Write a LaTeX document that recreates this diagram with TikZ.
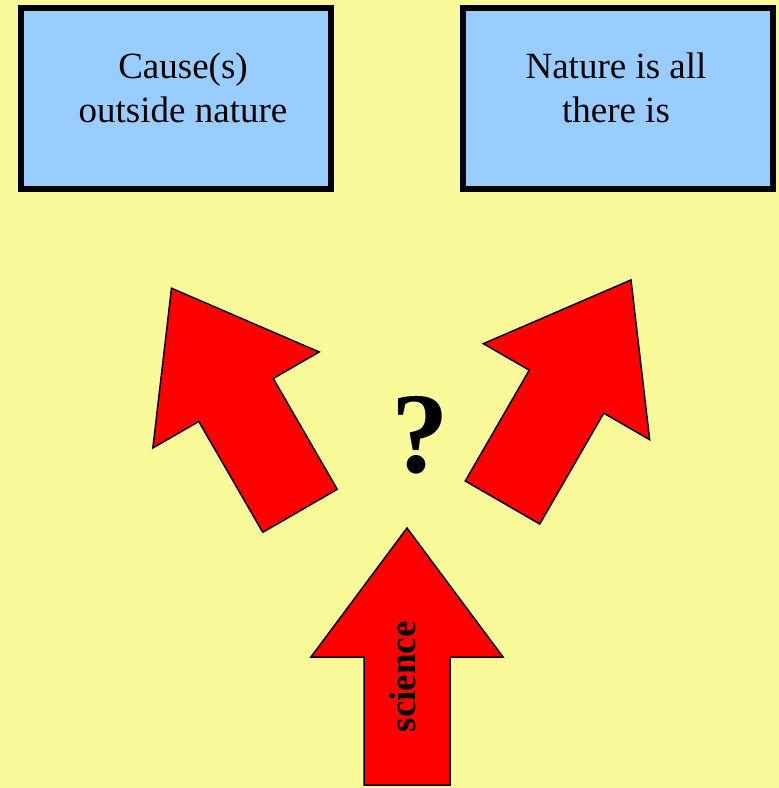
\documentclass[tikz,border=0pt]{standalone}
\usepackage{fontspec}
\setmainfont{Liberation Serif}

\definecolor{paleyellow}{HTML}{FAFA9B}
\definecolor{skyblue}{HTML}{99CCFF}

\begin{document}
\begin{tikzpicture}[x=0.5pt, y=-0.5pt,
  box/.style = {shape=rectangle, draw, line width=3pt, fill=skyblue,
    minimum width=155pt, minimum height=90.5pt},
  boxtext/.style = {align=center, font=\fontsize{18.5}{22}\selectfont},
  bigarrow/.style = {fill=red, draw=black, line width=0.75pt, line join=miter},
  pics/upblock/.style = {code={
    \draw[bigarrow] (-43,0) -- (-43,-128) -- (-96,-128) -- (0,-257)
      -- (96,-128) -- (43,-128) -- (43,0) -- cycle;
  }}
  ]
  \fill[paleyellow] (0,0) rectangle (779,788);
  \useasboundingbox (0,0) rectangle (779,788);

  \node[box] (cause) at (176,98.5) {};
  \node[boxtext] (causetext) at (183,87.5) {Cause(s)\\outside nature};
  \node[box] (nature) at (617.7,98.5) {};
  \node[boxtext] (naturetext) at (616,87.5) {Nature is all\\there is};

  \pic[rotate=30] at (300,510.8) {upblock};
  \pic[rotate=-30] at (502.5,502.5) {upblock};
  \pic at (407,785) {upblock};

  \node[font=\bfseries\fontsize{57.5}{60}\selectfont] (query) at (420,435) {?};
  \node[rotate=90, font=\bfseries\fontsize{18.5}{22}\selectfont] (science) at (402.5,676.7) {science};
\end{tikzpicture}
\end{document}
